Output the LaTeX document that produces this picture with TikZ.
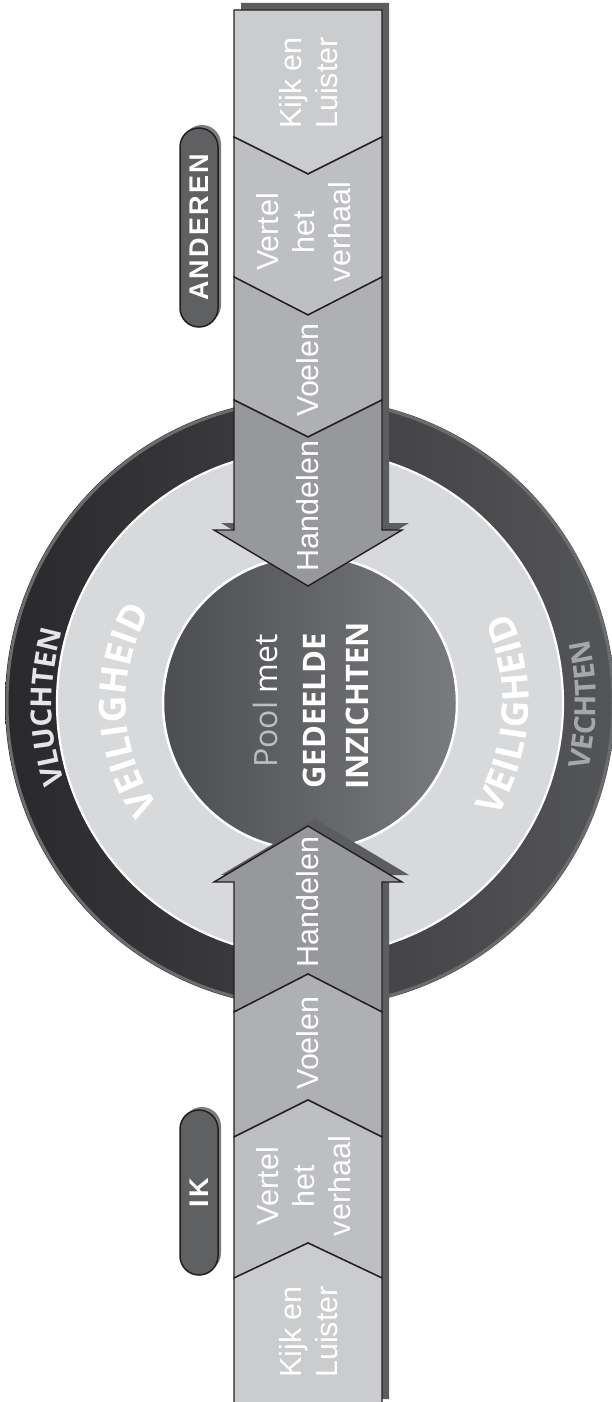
\documentclass[tikz,border=0pt]{standalone}
\usepackage{graphicx}
\usepackage{fontspec}
\setmainfont{Liberation Sans}
\newfontfamily\ringfont{Open Sans}
\newfontfamily\pillfont[LetterSpace=8]{Liberation Sans}
\usetikzlibrary{decorations.text,shadows}

\definecolor{kijkgray}{HTML}{CBCCCE}
\definecolor{vertelgray}{HTML}{BEBFC2}
\definecolor{voelengray}{HTML}{AFB0B3}
\definecolor{handelgray}{HTML}{97989B}
\definecolor{barshade}{HTML}{5C5D5F}
\definecolor{inkline}{HTML}{231F20}
\definecolor{ringleft}{HTML}{29282A}
\definecolor{ringright}{HTML}{545557}
\definecolor{ringrim}{HTML}{6B6C6E}
\definecolor{safegray}{HTML}{D8D9DB}
\definecolor{poolleft}{HTML}{4C4D4F}
\definecolor{poolright}{HTML}{7A7B7E}
\definecolor{pillgray}{HTML}{5F6062}
\definecolor{pillshade}{HTML}{7C7D7F}
\definecolor{fleegray}{HTML}{E4E5E6}
\definecolor{fightgray}{HTML}{A6A7A9}
\definecolor{poolword}{HTML}{BDBEC0}

\tikzset{
  section/.style={draw=inkline, line width=1.4pt, line join=miter},
  phase/.style={rotate=90, text=white, align=center, inner sep=0pt,
    font=\fontsize{30.5}{36}\selectfont},
  pill/.style={draw=inkline, line width=1.5pt, fill=pillgray, inner sep=0pt,
    minimum width=38pt, rounded corners=19pt, text=white,
    drop shadow={shadow xshift=3pt, shadow yshift=3pt, fill=pillshade, opacity=1}},
  insight/.style={rotate=90, text=white, inner sep=0pt,
    font=\ringfont\bfseries\fontsize{31}{31}\selectfont}
}

\begin{document}
\begin{tikzpicture}[x=1pt, y=-1pt]
    \useasboundingbox (0,0) rectangle (611,1402);
    \fill[white] (0,0) rectangle (611,1402);

    \coordinate (pool) at (310,703);

    % rings
    \shade[left color=ringleft, right color=ringright] (pool) circle[radius=305];
    \draw[ringrim, line width=3pt] (pool) circle[radius=303];
    \filldraw[fill=safegray, draw=white, line width=2.2pt] (pool) circle[radius=253];
    \path[draw=white, line width=2.5pt, left color=poolleft, right color=poolright]
        (pool) circle[radius=147];

    \path[decorate, decoration={text along path, text align={fit to path},
        text color=fleegray,
        text={|\ringfont\bfseries\fontsize{29}{29}\selectfont|VLUCHTEN}}]
        (pool) ++(162:258) arc[start angle=162, end angle=196, radius=258];
    \path[decorate, decoration={text along path, text align={fit to path},
        text color=fightgray,
        text={|\ringfont\bfseries\fontsize{29}{29}\selectfont|VECHTEN}}]
        (pool) ++(13.6:286) arc[start angle=13.6, end angle=-12.7, radius=286];
    \path[decorate, decoration={text along path, text align={fit to path},
        text color=white,
        text={|\ringfont\bfseries\fontsize{37}{37}\selectfont|VEILIGHEID}}]
        (pool) ++(145.5:184) arc[start angle=145.5, end angle=210, radius=184];
    \path[decorate, decoration={text along path, text align={fit to path},
        text color=white,
        text={|\ringfont\bfseries\fontsize{37}{37}\selectfont|VEILIGHEID}}]
        (pool) ++(31.5:219) arc[start angle=31.5, end angle=-24.5, radius=219];

    \node[rotate=90, text=white, inner sep=0pt,
        font=\ringfont\fontsize{32}{32}\selectfont] (poolmet) at (265,701)
        {\textcolor{poolword}{Pool} met};
    \node[insight] (gedeelde) at (314,711) {GEDEELDE};
    \node[insight] (inzichten) at (357,706) {INZICHTEN};

    % arrow shadows
    \fill[barshade, shift={(7,-7)}] (234,10) -- (382,10) -- (382,530) -- (402,530)
        -- (308,586) -- (214,530) -- (234,530) -- cycle;
    \fill[barshade, shift={(7,-7)}] (234,1406) -- (234,882) -- (214,882) -- (308,826)
        -- (402,882) -- (382,882) -- (382,1406) -- cycle;

    % arrow from the others
    \filldraw[section, fill=kijkgray] (234,10) -- (382,10) -- (382,137) -- (308,174)
        -- (234,137) -- cycle;
    \filldraw[section, fill=vertelgray] (234,137) -- (308,174) -- (382,137)
        -- (382,277) -- (308,315) -- (234,277) -- cycle;
    \filldraw[section, fill=voelengray] (234,277) -- (308,315) -- (382,277)
        -- (382,400) -- (308,437) -- (234,400) -- cycle;
    \filldraw[section, fill=handelgray] (234,400) -- (308,437) -- (382,400)
        -- (382,530) -- (402,530) -- (308,586) -- (214,530) -- (234,530) -- cycle;

    % arrow from me
    \filldraw[section, fill=handelgray] (234,1012) -- (308,974) -- (382,1012)
        -- (382,882) -- (402,882) -- (308,826) -- (214,882) -- (234,882) -- cycle;
    \filldraw[section, fill=voelengray] (234,1137) -- (308,1100) -- (382,1137)
        -- (382,1012) -- (308,974) -- (234,1012) -- cycle;
    \filldraw[section, fill=vertelgray] (234,1278) -- (308,1243) -- (382,1278)
        -- (382,1137) -- (308,1100) -- (234,1137) -- cycle;
    \filldraw[section, fill=kijkgray] (234,1406) -- (234,1278) -- (308,1243)
        -- (382,1278) -- (382,1406) -- cycle;

    \node[phase] (kijkA) at (309,83) {Kijk en\\Luister};
    \node[phase] (vertelA) at (304,232) {Vertel\\het\\verhaal};
    \node[phase] (voelenA) at (308,370) {Voelen};
    \node[phase] (handelA) at (308,506) {Handelen};

    \node[phase] (handelI) at (308,902) {Handelen};
    \node[phase] (voelenI) at (308,1043) {Voelen};
    \node[phase] (vertelI) at (304,1186) {Vertel\\het\\verhaal};
    \node[phase] (kijkI) at (309,1332) {Kijk en\\Luister};

    \node[pill, minimum height=199pt] (anderen) at (199,227.5)
        {\rotatebox{90}{\pillfont\bfseries\fontsize{27}{27}\selectfont ANDEREN}};
    \node[pill, minimum height=165pt] (ik) at (199,1192.5)
        {\rotatebox{90}{\pillfont\bfseries\fontsize{27}{27}\selectfont IK}};
\end{tikzpicture}
\end{document}
